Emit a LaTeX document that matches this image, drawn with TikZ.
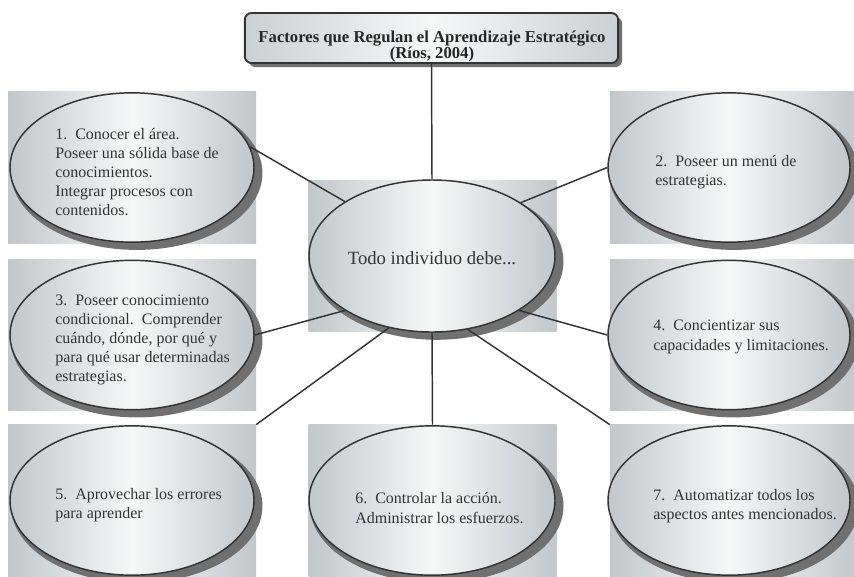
\documentclass[tikz,border=0pt]{standalone}
\usepackage{fontspec}
\setmainfont{Liberation Serif}
\usetikzlibrary{shapes.geometric,shadows}
\definecolor{grisfondo}{HTML}{C3C7CA}
\definecolor{grisclaro}{HTML}{F6F7F7}
\definecolor{grislinea}{HTML}{333333}
\definecolor{grissombra}{HTML}{707070}
\newcommand{\fuentetitulo}{\bfseries\fontsize{12.5}{12}\selectfont\lineskiplimit=-4pt\relax}
\tikzset{
  fondo/.style={rectangle, inner sep=0pt, minimum width=186pt, minimum height=113.5pt,
    left color=grisfondo, right color=grisfondo, middle color=grisclaro},
  globo/.style={ellipse, draw=grislinea, line width=1.1pt, inner sep=0pt,
    minimum width=183pt, minimum height=112pt,
    left color=grisfondo, right color=grisfondo, middle color=grisclaro,
    drop shadow={shadow xshift=3.5pt, shadow yshift=-4pt, shadow scale=1.03, fill=grissombra, opacity=1}},
  titulo/.style={rectangle, rounded corners=5pt, draw=grislinea, line width=1.4pt,
    minimum width=280pt, minimum height=37.5pt,
    left color=grisfondo!85, right color=grisfondo!85, middle color=grisclaro,
    drop shadow={shadow xshift=3pt, shadow yshift=-3pt, fill=grissombra, opacity=1}},
  texto/.style={anchor=west, align=left, inner sep=0pt, text=black!80,
    font=\fontsize{12}{14.4}\selectfont},
  enlace/.style={draw=grislinea, line width=1.1pt}
}
\begin{document}
\begin{tikzpicture}[x=0.75pt, y=-0.75pt]
  \useasboundingbox (0,0) rectangle (854,576);
  % título
  \node[titulo] (tit) at (431.5,38) {};
  \node[align=center, inner sep=0pt, text=black!85, font=\fuentetitulo] (ttit) at (432,46)
    {Factores que Regulan el Aprendizaje Estratégico\\(Ríos, 2004)};
  % centro
  \node[fondo] (rc) at (432.5,256) {};
  \node[globo, minimum width=184.5pt, minimum height=114pt] (ec) at (432,256) {};
  \node[inner sep=0pt, text=black!80, font=\fontsize{14}{16}\selectfont] (tc) at (432,258) {Todo individuo debe...};
  % columna izquierda
  \node[fondo] (r1) at (132,167.5) {};
  \node[globo] (e1) at (132,167.5) {};
  \node[texto] (t1) at (55,172) {1.\ \ Conocer el área.\\Poseer una sólida base de\\conocimientos.\\Integrar procesos con\\contenidos.};
  \node[fondo] (r3) at (132,335) {};
  \node[globo] (e3) at (132,335) {};
  \node[texto] (t3) at (55,340) {3.\ \ Poseer conocimiento\\condicional.\ \ Comprender\\cuándo, dónde, por qué y\\para qué usar determinadas\\estrategias.};
  \node[fondo] (r5) at (132,500.5) {};
  \node[globo] (e5) at (132,500.5) {};
  \node[texto] (t5) at (55,505) {5.\ \ Aprovechar los errores\\para aprender};
  % columna derecha
  \node[fondo] (r2) at (734,167.5) {};
  \node[globo, minimum width=181.5pt] (e2) at (729,167.5) {};
  \node[texto] (t2) at (655,172) {2.\ \ Poseer un menú de\\estrategias.};
  \node[fondo] (r4) at (734,335) {};
  \node[globo, minimum width=181.5pt] (e4) at (729,335) {};
  \node[texto] (t4) at (653,337) {4.\ \ Concientizar sus\\capacidades y limitaciones.};
  \node[fondo] (r7) at (734,500.5) {};
  \node[globo, minimum width=181.5pt] (e7) at (729,500.5) {};
  \node[texto] (t7) at (653,506) {7.\ \ Automatizar todos los\\aspectos antes mencionados.};
  % abajo al centro
  \node[fondo] (r6) at (432.5,500.5) {};
  \node[globo, minimum width=184.5pt] (e6) at (432,500.5) {};
  \node[texto] (t6) at (355,508) {6.\ \ Controlar la acción.\\Administrar los esfuerzos.};
  % enlaces
  \draw[enlace] (tit.south) -- (ec.north);
  \draw[enlace] (e1.10) -- (ec.148);
  \draw[enlace] (ec.31) -- (e2.west);
  \draw[enlace] (e3.east) -- (ec.212);
  \draw[enlace] (ec.328) -- (e4.west);
  \draw[enlace] (ec.239) -- (r5.north east);
  \draw[enlace] (ec.south) -- (r6.north);
  \draw[enlace] (ec.296) -- (r7.north west);
\end{tikzpicture}
\end{document}
